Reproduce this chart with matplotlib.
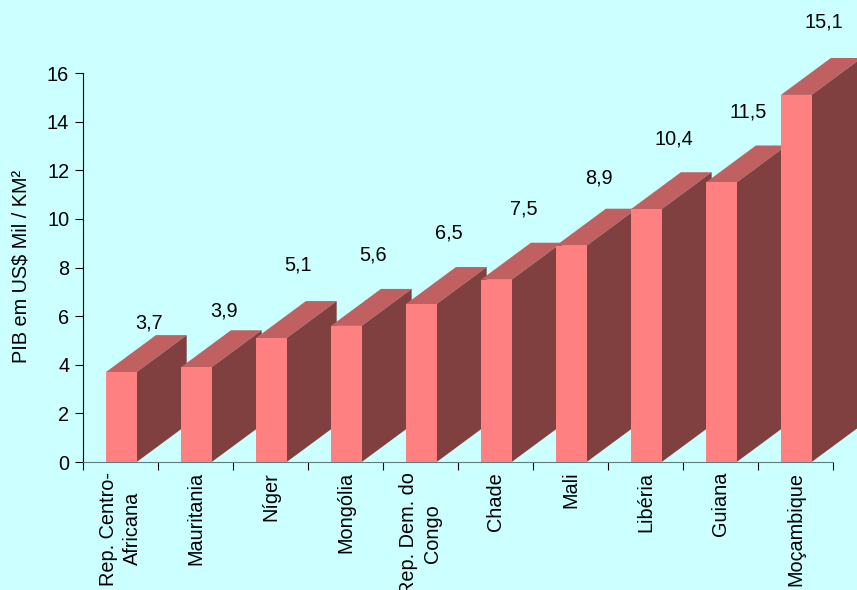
import matplotlib.pyplot as plt
from matplotlib.patches import Polygon

plt.rcParams['font.family'] = ['Liberation Sans', 'DejaVu Sans']

# dados
paises = ['Rep. Centro-\nAfricana', 'Mauritania', 'Níger', 'Mongólia',
          'Rep. Dem. do\nCongo', 'Chade', 'Mali', 'Libéria', 'Guiana', 'Moçambique']
valores = [3.7, 3.9, 5.1, 5.6, 6.5, 7.5, 8.9, 10.4, 11.5, 15.1]
rotulos = ['3,7', '3,9', '5,1', '5,6', '6,5', '7,5', '8,9', '10,4', '11,5', '15,1']
yticks = [0, 2, 4, 6, 8, 10, 12, 14, 16]

# deslocamento vertical dos rótulos acima da face frontal (em unidades do eixo y)
rotulo_off = [2.0, 2.3, 3.0, 2.9, 2.9, 2.9, 2.8, 2.9, 2.9, 3.0]

cor_fundo = '#CCFFFF'
cor_frente = '#FF8080'
cor_topo = '#C06060'
cor_lado = '#804040'

largura = 0.41   # largura da face frontal (em categorias)
dx = 0.667       # profundidade em x
dy = 1.52        # profundidade em y
fs = 14.3

fig = plt.figure(figsize=(8.57, 5.90), dpi=100, facecolor=cor_fundo)
ax = fig.add_axes([0.0969, 0.2169, 0.8751, 0.6593])
ax.set_facecolor(cor_fundo)
ax.set_xlim(0, len(valores))
ax.set_ylim(0, 16)

for i, v in enumerate(valores):
    x0 = i + 0.5 - largura / 2 + 0.01
    x1 = x0 + largura
    z = 10 + i
    frente = Polygon([(x0, 0), (x1, 0), (x1, v), (x0, v)], closed=True,
                     facecolor=cor_frente, edgecolor='none', zorder=z + 0.2, clip_on=False)
    topo = Polygon([(x0, v), (x1, v), (x1 + dx, v + dy), (x0 + dx, v + dy)], closed=True,
                   facecolor=cor_topo, edgecolor='none', zorder=z, clip_on=False)
    lado = Polygon([(x1, 0), (x1 + dx, dy), (x1 + dx, v + dy), (x1, v)], closed=True,
                   facecolor=cor_lado, edgecolor='none', zorder=z + 0.1, clip_on=False)
    ax.add_patch(lado)
    ax.add_patch(topo)
    ax.add_patch(frente)
    ax.text((x0 + x1) / 2 + dx / 2 + 0.03, v + rotulo_off[i], rotulos[i],
            ha='center', va='center', fontsize=fs, zorder=30, clip_on=False)

ax.spines['top'].set_visible(False)
ax.spines['right'].set_visible(False)
ax.spines['left'].set_color('black')
ax.spines['bottom'].set_color('#5F7F7F')
ax.spines['bottom'].set_zorder(40)

ax.set_yticks(yticks)
ax.set_yticklabels([str(t) for t in yticks], fontsize=fs)
ax.tick_params(axis='y', direction='out', length=6, pad=4)

# marcas nos limites das categorias, rótulos no centro
ax.set_xticks(range(len(valores) + 1))
ax.set_xticklabels([])
ax.set_xticks([i + 0.5 for i in range(len(valores))], minor=True)
ax.set_xticklabels(paises, minor=True, rotation=90, fontsize=fs,
                   ha='center', va='top', multialignment='center', linespacing=1.35)
ax.tick_params(axis='x', which='major', direction='out', length=6)
ax.tick_params(axis='x', which='minor', length=0, pad=7)

fig.text(0.024, 0.385, 'PIB em US$ Mil / KM²', rotation=90, ha='center', va='bottom',
         fontsize=fs)

fig.savefig('out.png', dpi=100, facecolor=cor_fundo)
